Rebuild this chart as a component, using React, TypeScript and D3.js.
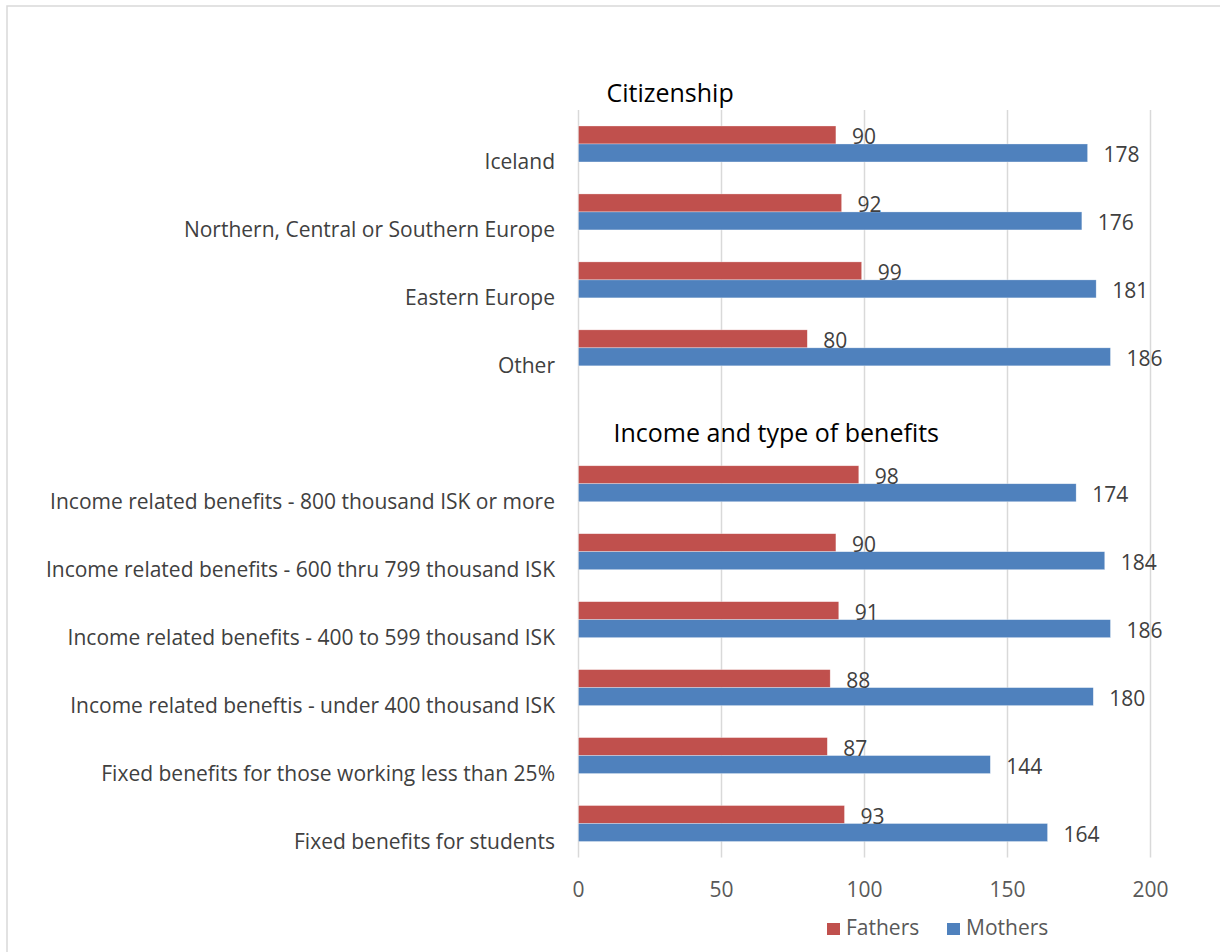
import React from "react";
import * as d3 from "d3";

const categories = [
  "Iceland",
  "Northern, Central or Southern Europe",
  "Eastern Europe",
  "Other",
  "",
  "Income related benefits - 800 thousand ISK or more",
  "Income related benefits - 600 thru 799 thousand ISK",
  "Income related benefits - 400 to 599 thousand ISK",
  "Income related beneftis - under 400 thousand ISK",
  "Fixed benefits for those working less than 25%",
  "Fixed benefits for students",
];
const fathers = [90, 92, 99, 80, null, 98, 90, 91, 88, 87, 93];
const mothers = [178, 176, 181, 186, null, 174, 184, 186, 180, 144, 164];
const seriesNames = ["Fathers", "Mothers"];
const seriesColors = ["#C0504D", "#4F81BD"];
const xTicks = [0, 50, 100, 150, 200];
const groupHeaders = [
  { text: "Citizenship", row: -1, dx: 28 },
  { text: "Income and type of benefits", row: 4, dx: 35 },
];

const W = 1220;
const H = 952;
const FONT = "'Open Sans', sans-serif";

export default function App() {
  const x = d3.scaleLinear().domain([0, 200]).range([578.5, 1150.5]);
  const rowIdx = categories.map((_, i) => i);
  const y = d3.scaleBand<number>().domain(rowIdx).range([110, 857.5]).padding(0);
  const step = y.step();
  const yInner = d3
    .scaleBand<string>()
    .domain(seriesNames)
    .range([0, step])
    .paddingInner(0)
    .paddingOuter(0.889);
  const values = [fathers, mothers];
  const rowTop = (i: number) => 110 + i * step;

  return (
    <svg
      width={W}
      height={H}
      style={{ position: "absolute", left: 0, top: 0, display: "block", fontFamily: FONT }}
    >
      <rect x={0} y={0} width={W} height={H} fill="#fff" />
      <rect x={7} y={6} width={W + 10} height={H + 10} fill="none" stroke="#d9d9d9" strokeWidth={1.5} />
      {/* grid */}
      {xTicks.map((t) => (
        <line key={t} x1={x(t)} x2={x(t)} y1={110} y2={857.5} stroke="#d9d9d9" strokeWidth={1.5} />
      ))}
      {/* bars */}
      {values.map((vals, s) =>
        vals.map((v, i) =>
          v == null ? null : (
            <rect
              key={`${s}-${i}`}
              x={x(0)}
              y={(y(i) as number) + (yInner(seriesNames[s]) as number)}
              width={x(v) - x(0)}
              height={yInner.bandwidth()}
              fill={seriesColors[s]}
              stroke="#fff"
              strokeOpacity={0.5}
              strokeWidth={0.6}
            />
          )
        )
      )}
      {/* value labels */}
      {values.map((vals, s) =>
        vals.map((v, i) =>
          v == null ? null : (
            <text
              key={`l${s}-${i}`}
              x={x(v) + 16}
              y={(y(i) as number) + (yInner(seriesNames[s]) as number) + yInner.bandwidth() / 2 + 1}
              dominantBaseline="central"
              fontSize={21}
              fill="#404040"
            >
              {v}
            </text>
          )
        )
      )}
      {/* category labels */}
      {categories.map((c, i) =>
        c ? (
          <text
            key={c}
            x={555}
            y={(y(i) as number) + step / 2 + 17}
            textAnchor="end"
            dominantBaseline="central"
            fontSize={21}
            fill="#404040"
          >
            {c}
          </text>
        ) : null
      )}
      {/* group headers */}
      {groupHeaders.map((g) => (
        <text key={g.text} x={x(0) + g.dx} y={rowTop(g.row) + step / 2 + 26} fontSize={25} fill="#000">
          {g.text}
        </text>
      ))}
      {/* x tick labels */}
      {xTicks.map((t) => (
        <text
          key={`t${t}`}
          x={x(t)}
          y={889}
          textAnchor="middle"
          dominantBaseline="central"
          fontSize={21}
          fill="#595959"
        >
          {t}
        </text>
      ))}
      {/* legend */}
      {seriesNames.map((n, k) => {
        const lx = k === 0 ? 827 : 947;
        return (
          <g key={n} transform={`translate(${lx},923)`}>
            <rect x={0} y={0} width={13} height={12} fill={seriesColors[k]} />
            <text x={19} y={12} fontSize={21} fill="#595959">
              {n}
            </text>
          </g>
        );
      })}
    </svg>
  );
}
